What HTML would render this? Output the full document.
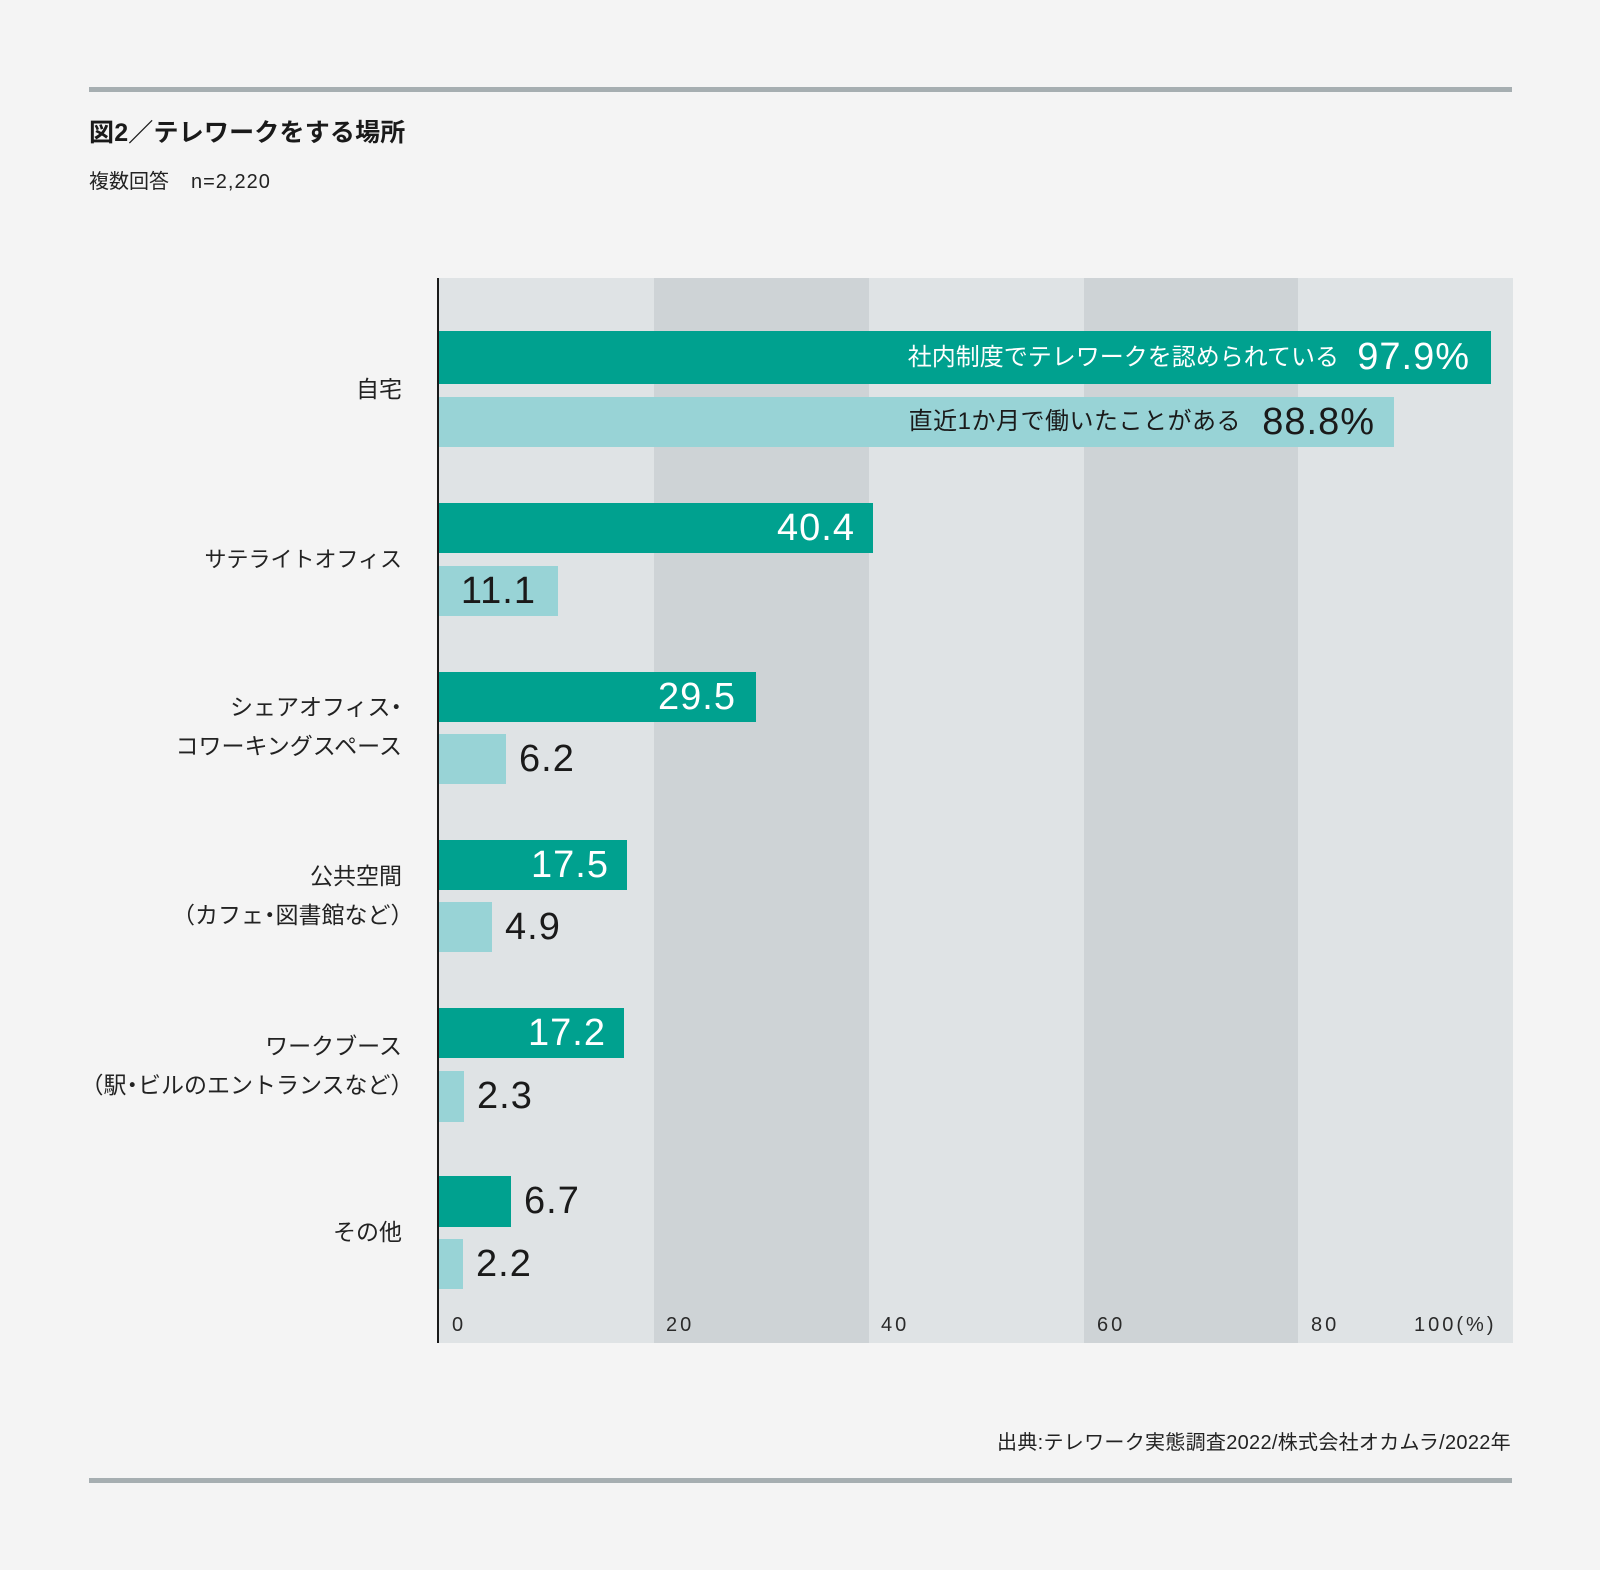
<!DOCTYPE html>
<html lang="ja">
<head>
<meta charset="utf-8">
<style>
html,body{margin:0;padding:0;}
body{width:1600px;height:1570px;background:#f4f4f4;position:relative;overflow:hidden;
font-family:"Liberation Sans","Noto Sans CJK JP",sans-serif;color:#1e1e1e;}
.abs{position:absolute;}
.rule{position:absolute;left:89px;width:1423px;height:5px;background:#a6aeb1;}
.band{position:absolute;top:278px;height:1065px;}
.bl{background:#dfe3e5;}
.bd{background:#ced3d6;}
.t{position:absolute;background:#00a18f;}
.l{position:absolute;background:#98d3d6;}
.lab{position:absolute;right:1198px;font-size:23px;line-height:39px;text-align:right;white-space:nowrap;color:#222;}
.h{font-feature-settings:"halt";}
.v{position:absolute;font-size:38px;letter-spacing:1px;white-space:nowrap;}
.vw{color:#fff;}
.vd{color:#1a1a1a;}
.tick{position:absolute;top:1315px;font-size:20px;line-height:20px;letter-spacing:3px;color:#2a2a2a;}
</style>
</head>
<body>
<div class="rule" style="top:87px;"></div>
<div class="abs" style="left:89px;top:120px;font-size:25px;line-height:26px;font-weight:bold;letter-spacing:0.2px;white-space:nowrap;color:#1a1a1a;">図2／テレワークをする場所</div>
<div class="abs" style="left:89px;top:172px;font-size:20px;line-height:20px;white-space:nowrap;color:#222;">複数回答<span style="margin-left:22px;letter-spacing:1px;">n=2,220</span></div>

<!-- plot bands -->
<div class="band bl" style="left:439px;width:215px;"></div>
<div class="band bd" style="left:654px;width:215px;"></div>
<div class="band bl" style="left:869px;width:215px;"></div>
<div class="band bd" style="left:1084px;width:214px;"></div>
<div class="band bl" style="left:1298px;width:215px;"></div>
<div class="abs" style="left:437px;top:278px;width:2px;height:1065px;background:#1a1a1a;"></div>

<!-- bars -->
<div class="t" style="left:439px;top:331px;width:1052px;height:53px;"></div>
<div class="l" style="left:439px;top:397px;width:955px;height:50px;"></div>
<div class="t" style="left:439px;top:503px;width:434px;height:50px;"></div>
<div class="l" style="left:439px;top:566px;width:119px;height:50px;"></div>
<div class="t" style="left:439px;top:672px;width:317px;height:50px;"></div>
<div class="l" style="left:439px;top:734px;width:67px;height:50px;"></div>
<div class="t" style="left:439px;top:840px;width:188px;height:50px;"></div>
<div class="l" style="left:439px;top:902px;width:53px;height:50px;"></div>
<div class="t" style="left:439px;top:1008px;width:185px;height:50px;"></div>
<div class="l" style="left:439px;top:1071px;width:25px;height:51px;"></div>
<div class="t" style="left:439px;top:1176px;width:72px;height:51px;"></div>
<div class="l" style="left:439px;top:1239px;width:24px;height:50px;"></div>

<!-- bar 1 texts -->
<div class="abs" style="right:261px;top:331px;height:53px;line-height:53px;font-size:24px;color:#fff;white-space:nowrap;">社内制度でテレワークを認められている</div>
<div class="v vw" style="right:130px;top:331px;line-height:53px;">97.9%</div>
<div class="abs" style="right:359px;top:397px;height:50px;line-height:50px;font-size:24px;letter-spacing:0.5px;color:#1a1a1a;white-space:nowrap;">直近1か月で働いたことがある</div>
<div class="v vd" style="right:225px;top:397px;line-height:50px;">88.8%</div>

<!-- values -->
<div class="v vw" style="right:745px;top:503px;line-height:50px;">40.4</div>
<div class="v vd" style="right:1064px;top:566px;line-height:50px;">11.1</div>
<div class="v vw" style="right:864px;top:672px;line-height:50px;">29.5</div>
<div class="v vd" style="left:519px;top:734px;line-height:50px;">6.2</div>
<div class="v vw" style="right:991px;top:840px;line-height:50px;">17.5</div>
<div class="v vd" style="left:505px;top:902px;line-height:50px;">4.9</div>
<div class="v vw" style="right:994px;top:1008px;line-height:50px;">17.2</div>
<div class="v vd" style="left:477px;top:1071px;line-height:51px;">2.3</div>
<div class="v vd" style="left:524px;top:1176px;line-height:51px;">6.7</div>
<div class="v vd" style="left:476px;top:1239px;line-height:50px;">2.2</div>

<!-- category labels -->
<div class="lab" style="top:370px;">自宅</div>
<div class="lab" style="top:540px;font-size:22px;">サテライトオフィス</div>
<div class="lab" style="top:688px;">シェアオフィス<span class="h">・</span><br>コワーキングスペース</div>
<div class="lab" style="top:857px;">公共空間<br><span class="h">（</span>カフェ<span class="h">・</span>図書館など<span class="h">）</span></div>
<div class="lab" style="top:1027px;">ワークブース<br><span class="h">（</span>駅<span class="h">・</span>ビルのエントランスなど<span class="h">）</span></div>
<div class="lab" style="top:1213px;">その他</div>

<!-- ticks -->
<div class="tick" style="left:452px;">0</div>
<div class="tick" style="left:666px;">20</div>
<div class="tick" style="left:881px;">40</div>
<div class="tick" style="left:1097px;">60</div>
<div class="tick" style="left:1311px;">80</div>
<div class="tick" style="left:1414px;">100(%)</div>

<!-- footer -->
<div class="abs" style="right:89px;top:1433px;font-size:20px;line-height:20px;letter-spacing:0.3px;white-space:nowrap;color:#222;">出典:テレワーク実態調査2022/株式会社オカムラ/2022年</div>
<div class="rule" style="top:1478px;"></div>
</body>
</html>
